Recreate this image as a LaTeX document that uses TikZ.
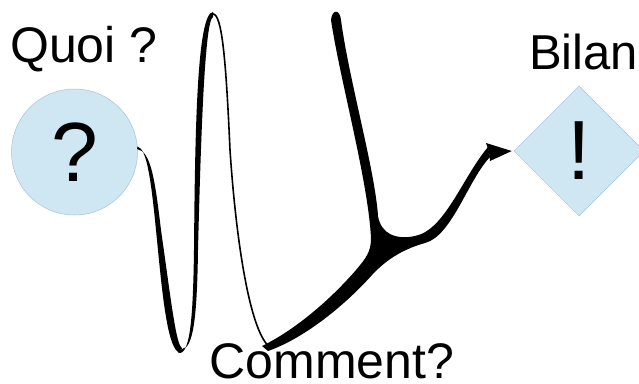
\documentclass[tikz,border=0pt]{standalone}
\usepackage{fontspec}
\setmainfont{Liberation Sans}
\usetikzlibrary{shapes.geometric}
\definecolor{nodefill}{HTML}{CFE6F3}
\definecolor{nodeline}{HTML}{A8C3D2}
\tikzset{
  bubble/.style={circle, fill=nodefill, draw=nodeline, line width=0.5bp, minimum size=126bp, inner sep=0pt},
  rhomb/.style={diamond, fill=nodefill, draw=nodeline, line width=0.5bp, minimum width=130bp, minimum height=130bp, inner sep=0pt},
  bigsign/.style={font=\fontsize{84bp}{90bp}\selectfont},
  lbl/.style={anchor=base west, inner sep=0pt},
  ink/.style={fill=black, draw=none},
  thinink/.style={draw=black, line width=1.6bp, line cap=round}
}
\begin{document}
\begin{tikzpicture}[x=1bp,y=-1bp]
\useasboundingbox (0,0) rectangle (639,383);

% nodes
\node[bubble, bigsign] (q) at (74.5,152) {?};
\node[rhomb, bigsign] (b) at (579,151) {!};

\node[lbl, font=\fontsize{50bp}{60bp}\selectfont] (lq) at (10,62) {Quoi ?};
\node[lbl, font=\fontsize{49bp}{58bp}\selectfont] (lb) at (529,69) {Bilan};
\node[lbl, font=\fontsize{50bp}{60bp}\selectfont] (lc) at (209.5,378) {Comment?};

% piece A: from the circle down to the first valley
\fill[ink] (q.5) .. controls (147,149) and (151,180) .. (156,230)
  .. controls (162,290) and (167,353) .. (181,353)
  -- (182,348) .. controls (176,345) and (171,300) .. (161,230)
  .. controls (155,180) and (151,151) .. (137,149) -- cycle;

% piece B: up to the first peak
\fill[ink] (178,353) .. controls (190,356) and (193,320) .. (194,250)
  .. controls (195,130) and (197,13) .. (213,12)
  -- (213,17) .. controls (205,20) and (201,130) .. (198,250)
  .. controls (197,320) and (193,348) .. (182,349) -- cycle;

% piece C: thin descent to the second valley
\draw[thinink] (213,14) .. controls (222,14) and (226,60) .. (230,150)
  .. controls (236,240) and (250,335) .. (271,348);

% pieces D, E, F: thick rise, upward branch and branch to the diamond
\fill[ink] (331,20) .. controls (340,80) and (368,180) .. (371,238)
  .. controls (371,252) and (366,258) .. (356,270)
  .. controls (330,300) and (295,330) .. (262,346)
  -- (268,351) .. controls (305,338) and (345,305) .. (372,275)
  .. controls (384,262) and (400,250) .. (425,243)
  .. controls (452,236) and (468,180) .. (490,157)
  -- (488,147) .. controls (462,178) and (445,230) .. (415,236)
  .. controls (396,240) and (381,234) .. (378,216)
  .. controls (375,170) and (349,80) .. (341,20)
  .. controls (340,9) and (332,9) .. (331,20) -- cycle;

% arrow head
\fill[ink] (486,143) -- ([xshift=-2bp]b.west) -- (490,161) -- (489,152) -- cycle;
\end{tikzpicture}
\end{document}
